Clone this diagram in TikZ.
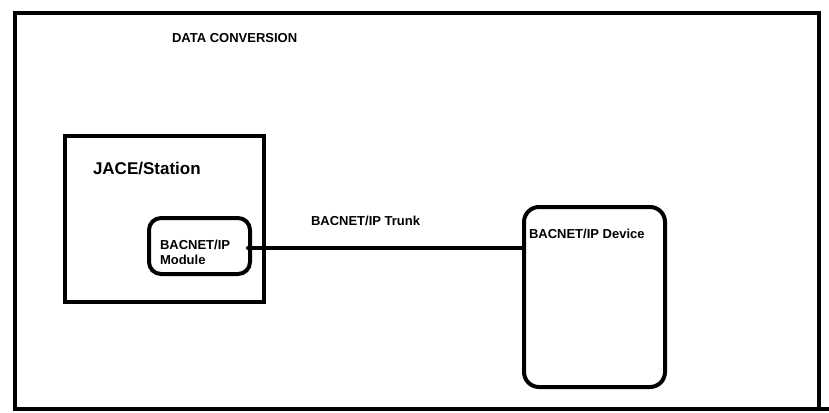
\documentclass[tikz,border=0pt]{standalone}
\usepackage{fontspec}
\setmainfont{Liberation Sans}
\usepackage{tikz}

\begin{document}
\begin{tikzpicture}[x=1pt,y=-1pt,line width=4pt,
		box/.style={draw,inner sep=0pt,minimum width=#1},
		lbl/.style={inner sep=0pt,anchor=base west,font=\fontsize{13}{15}\selectfont\bfseries}]
		\useasboundingbox (0,0) rectangle (829,412);
		\draw (15,411) -- (15,13) -- (819,13) -- (819,411);
		\draw (13,409) -- (829,409);
		\node (DC) [lbl] at (170,42.5) {DATA CONVERSION};
		\node (JACE) [box=199pt,minimum height=166pt] at (164.5,219) {};
		\node (JL) [lbl,font=\fontsize{17}{20}\selectfont\bfseries] at (91,174) {JACE/Station};
		\node (MOD) [box=101pt,minimum height=56pt,rounded corners=12pt] at (199.5,246) {};
		\node (ML) [lbl,align=left] at (158,264) {BACNET/IP\\Module};
		\node (DEV) [box=141pt,minimum height=180pt,rounded corners=15pt] at (594.5,297) {};
		\node (DL) [lbl] at (527,238) {BACNET/IP Device};
		\node (TL) [lbl] at (309,225) {BACNET/IP Trunk};
		\coordinate (T1) at (248,248);
		\draw[line cap=round] (T1) -- (T1 -| DEV.west);
		\end{tikzpicture}
\end{document}
